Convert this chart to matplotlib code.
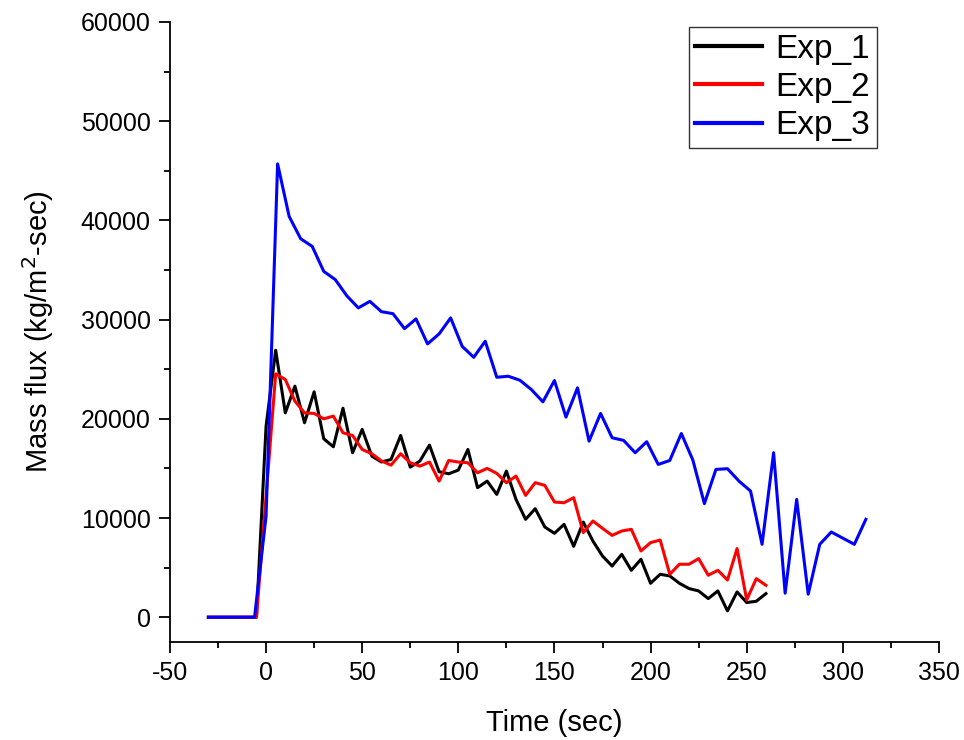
import matplotlib
matplotlib.use("Agg")
import matplotlib.pyplot as plt
from matplotlib.ticker import MultipleLocator

plt.rcParams['font.family'] = ['Liberation Sans', 'DejaVu Sans']
plt.rcParams['axes.unicode_minus'] = False

# Exp_1 and Exp_2 sampled every 5 s, Exp_3 every 6 s
time_5s = list(range(-30, 261, 5))
time_6s = list(range(-30, 313, 6))

exp_1 = [0, 0, 0, 0, 0, 0,
         19260, 26910, 20600, 23290, 19600, 22720, 17990, 17180, 21070, 16580,
         18930, 16240, 15650, 15900, 18320, 15130, 15740, 17350, 14670, 14460,
         14830, 16910, 13060, 13720, 12380, 14730, 11880, 9870, 10940, 9090,
         8460, 9360, 7150, 9590, 7680, 6170, 5160, 6340, 4730, 5840,
         3420, 4330, 4160, 3420, 2890, 2650, 1880, 2650, 640, 2550,
         1480, 1610, 2380]

exp_2 = [0, 0, 0, 0, 0, 0,
         12200, 24530, 23960, 21780, 20600, 20540, 20000, 20270, 18590, 18320,
         16910, 16480, 15750, 15330, 16480, 15570, 15230, 15640, 13720, 15800,
         15640, 15570, 14560, 15000, 14500, 13560, 14230, 12280, 13560, 13290,
         11610, 11540, 12050, 8530, 9700, 8960, 8250, 8690, 8860, 6680,
         7520, 7780, 4330, 5340, 5340, 5910, 4230, 4730, 3750, 6920,
         1750, 3890, 3220]

exp_3 = [0, 0, 0, 0, 0,
         10200, 45700, 40400, 38150, 37380, 34860, 34030, 32400, 31180, 31840,
         30800, 30600, 29090, 30070, 27550, 28560, 30170, 27310, 26200, 27820,
         24190, 24290, 23890, 22950, 21710, 23860, 20170, 23120, 17750, 20540,
         18090, 17820, 16580, 17690, 15400, 15800, 18520, 15840, 11450, 14900,
         14970, 13720, 12720, 7350, 16580, 2420, 11880, 2320, 7350, 8590,
         7970, 7350, 9870]

fig = plt.figure(figsize=(9.64, 7.40), dpi=100)
ax = fig.add_axes([0.1763, 0.1324, 0.7977, 0.8379])

ax.plot(time_5s, exp_1, color='black', linewidth=2.2, label='Exp_1')
ax.plot(time_5s, exp_2, color='red', linewidth=2.2, label='Exp_2')
ax.plot(time_6s, exp_3, color='blue', linewidth=2.2, label='Exp_3')

ax.set_xlim(-50, 350)
ax.set_ylim(-2500, 60000)
ax.xaxis.set_major_locator(MultipleLocator(50))
ax.xaxis.set_minor_locator(MultipleLocator(25))
ax.yaxis.set_major_locator(MultipleLocator(10000))
ax.yaxis.set_minor_locator(MultipleLocator(5000))

ax.spines['top'].set_visible(False)
ax.spines['right'].set_visible(False)
for s in ['left', 'bottom']:
    ax.spines[s].set_linewidth(1.3)

ax.tick_params(which='major', direction='out', length=8, width=1.3, labelsize=18)
ax.tick_params(which='minor', direction='out', length=4.3, width=1.3)
ax.tick_params(axis='x', which='major', pad=6)
ax.tick_params(axis='y', which='major', pad=6)

ax.set_xlabel('Time (sec)', fontsize=21, labelpad=17)
ax.set_ylabel('Mass flux (kg/m$^2$-sec)', fontsize=21, labelpad=18)

leg = ax.legend(loc='upper right', bbox_to_anchor=(0.919, 0.992), fontsize=24,
                frameon=True, fancybox=False, edgecolor='black',
                handlelength=2.0, handletextpad=0.4, borderpad=0.2,
                labelspacing=0.22, borderaxespad=0.0)
leg.get_frame().set_linewidth(1.0)
for line in leg.get_lines():
    line.set_linewidth(3)

plt.savefig('out.png', dpi=100)
